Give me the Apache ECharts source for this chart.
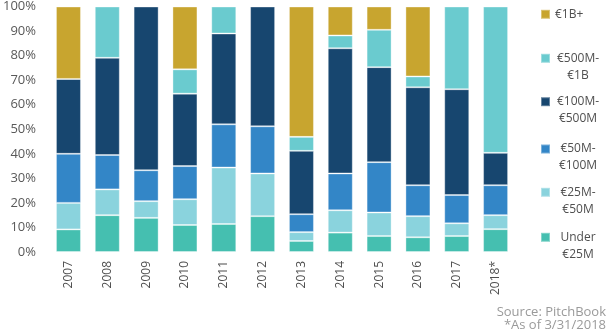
<!DOCTYPE html>
<html>
<head>
<meta charset="utf-8">
<style>
  html, body { margin: 0; padding: 0; background: #ffffff; }
  #chart { width: 607px; height: 335px; }
</style>
<script src="https://cdn.jsdelivr.net/npm/echarts@6/dist/echarts.min.js"></script>
</head>
<body>
<div id="chart"></div>
<script>
// Share of deal value by deal size, per year (percent of total)
const years = ['2007', '2008', '2009', '2010', '2011', '2012', '2013', '2014', '2015', '2016', '2017', '2018*'];
const yTicks = [0, 10, 20, 30, 40, 50, 60, 70, 80, 90, 100];

const under25M  = [9.2, 15, 13.9, 11, 11.4, 14.6, 4.5, 7.9, 6.5, 6, 6.5, 9.3];
const m25to50   = [10.8, 10.5, 6.8, 10.5, 23, 17.4, 3.6, 9.1, 9.6, 8.6, 5.2, 5.7];
const m50to100  = [20, 14, 12.6, 13.5, 17.6, 19.2, 7.3, 15, 20.5, 12.6, 11.5, 12.2];
const m100to500 = [30.5, 39.6, 66.7, 29.5, 37, 48.8, 25.8, 51, 38.7, 39.9, 43.1, 13.2];
const m500to1B  = [0, 20.9, 0, 9.9, 11, 0, 5.7, 5.2, 15.2, 4.4, 33.7, 59.6];
const over1B    = [29.5, 0, 0, 25.6, 0, 0, 53.1, 11.8, 9.5, 28.5, 0, 0];

const seriesDefs = [
  { name: 'Under €25M',  data: under25M,  color: '#45bfb0' },
  { name: '€25M-€50M',   data: m25to50,   color: '#8ad3dd' },
  { name: '€50M-€100M',  data: m50to100,  color: '#3386c7' },
  { name: '€100M-€500M', data: m100to500, color: '#17466f' },
  { name: '€500M-€1B',   data: m500to1B,  color: '#6acbcf' },
  { name: '€1B+',        data: over1B,    color: '#c8a52f' }
];

const FONT = '"Open Sans", "DejaVu Sans", sans-serif';
const LINE_H = 17;

// legend first-line centre (y) for each entry, top to bottom
const legendOrder = ['€1B+', '€500M-€1B', '€100M-€500M', '€50M-€100M', '€25M-€50M', 'Under €25M'];
const legendY = [14.3, 58.3, 101.7, 149, 192.3, 237.3];

function splitName(name) {
  if (name.indexOf('Under ') === 0) return ['Under', name.slice(6)];
  const i = name.indexOf('-€');
  if (i < 0) return [name];
  return [name.slice(0, i + 1), name.slice(i + 1)];
}

const legends = legendOrder.map(function (name, idx) {
  const lines = splitName(name);
  const twoLines = lines.length > 1;
  const top = twoLines ? legendY[idx] - 4.5 - 21 : legendY[idx] - 8.5;
  return {
    data: [name],
    left: 540,
    top: top,
    padding: 0,
    itemWidth: 9,
    itemHeight: 9,
    icon: 'rect',
    selectedMode: false,
    formatter: function (n) {
      return splitName(n).map(function (s) { return '{c|' + s + '}'; }).join('\n');
    },
    textStyle: {
      fontFamily: FONT,
      fontSize: 12,
      color: '#4f4f4f',
      lineHeight: LINE_H,
      padding: twoLines ? [LINE_H, 0, 0, 0] : 0,
      rich: {
        c: {
          fontFamily: FONT,
          fontSize: 12,
          color: '#4f4f4f',
          lineHeight: LINE_H,
          width: twoLines ? 46 : undefined,
          align: 'center'
        }
      }
    }
  };
});

const chart = echarts.init(document.getElementById('chart'), null, { renderer: 'canvas' });

chart.setOption({
  animation: false,
  backgroundColor: '#ffffff',
  grid: { left: 45, right: 92, top: 6, bottom: 83, containLabel: false },
  legend: legends,
  xAxis: {
    type: 'category',
    data: years,
    axisLine: { show: false },
    axisTick: { show: false },
    axisLabel: {
      rotate: 90,
      margin: 9,
      fontFamily: FONT,
      fontSize: 12,
      color: '#4f4f4f'
    }
  },
  yAxis: {
    type: 'value',
    min: yTicks[0],
    max: yTicks[yTicks.length - 1],
    interval: yTicks[1] - yTicks[0],
    axisLine: { show: false },
    axisTick: { show: false },
    splitLine: { show: false },
    axisLabel: {
      formatter: '{value}%',
      margin: 13,
      fontFamily: FONT,
      fontSize: 13,
      color: '#595959'
    }
  },
  series: seriesDefs.map(function (s) {
    return {
      name: s.name,
      type: 'bar',
      stack: 'share',
      data: s.data,
      barWidth: 25,
      itemStyle: {
        color: s.color,
        borderColor: 'rgba(255,255,255,0.35)',
        borderWidth: 1
      },
      emphasis: { disabled: true }
    };
  }),
  graphic: [
    {
      type: 'text',
      right: 1,
      top: 306,
      style: {
        text: 'Source: PitchBook',
        font: '13px ' + FONT,
        fill: '#9a9a9a',
        textAlign: 'right'
      }
    },
    {
      type: 'text',
      right: 1,
      top: 319,
      style: {
        text: '*As of 3/31/2018',
        font: '13px ' + FONT,
        fill: '#9a9a9a',
        textAlign: 'right'
      }
    }
  ]
});
</script>
</body>
</html>
